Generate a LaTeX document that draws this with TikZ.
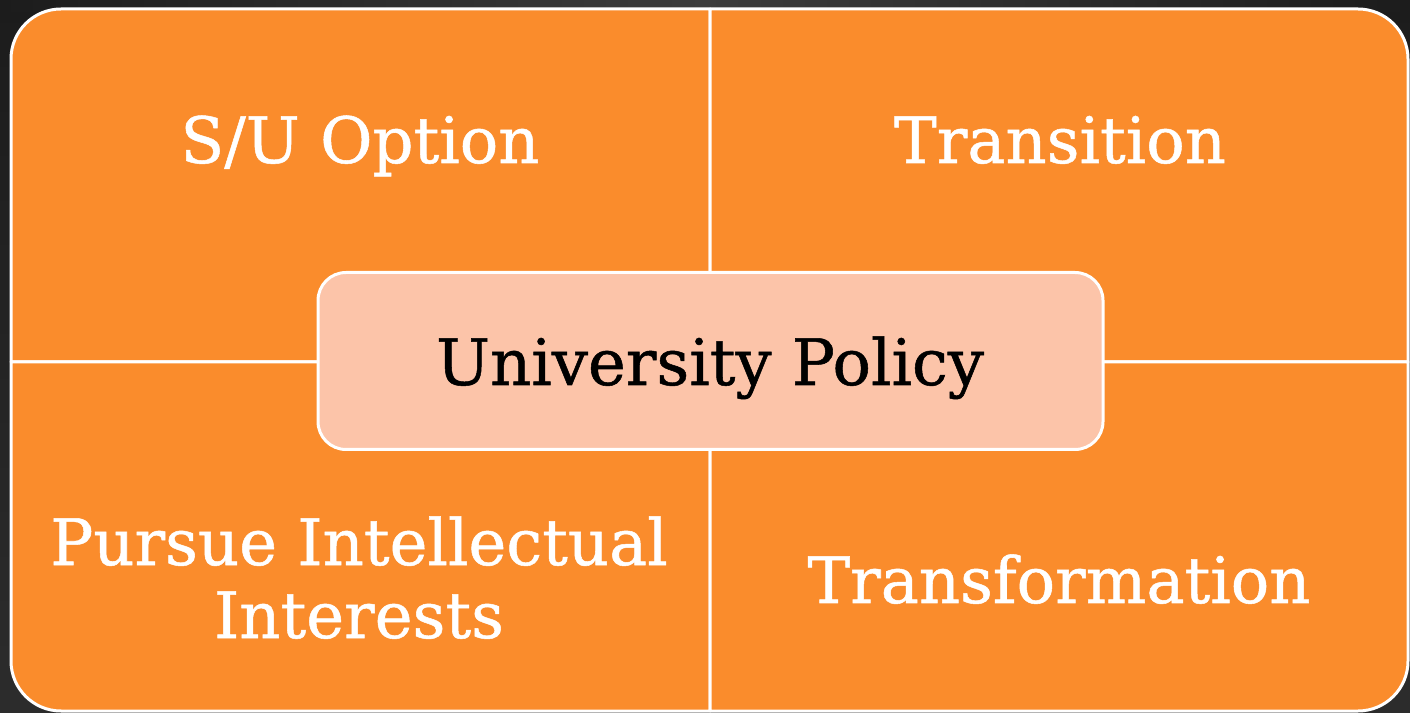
\documentclass[tikz,border=0pt]{standalone}
\usepackage{fontspec}
\setmainfont[FakeBold=0.8]{DejaVu Serif}
\definecolor{bgtop}{HTML}{1C1C1C}
\definecolor{bgbot}{HTML}{2C2C2C}
\definecolor{bgmid}{HTML}{3C3C3C}
\definecolor{quadorange}{HTML}{FA8C2C}
\definecolor{peach}{HTML}{FCC4A9}
\tikzset{
  quad/.style={fill=quadorange, draw=white, line width=3pt, line join=round},
  quadtext/.style={text=white, font=\fontsize{64}{73}\selectfont, inner sep=0pt},
  centerbox/.style={fill=peach, draw=white, line width=3pt, rounded corners=28pt,
    minimum width=785pt, minimum height=177pt, inner sep=0pt},
  centertext/.style={font=\fontsize{64}{73}\selectfont, text=black, inner sep=0pt},
}
\begin{document}
\begin{tikzpicture}[x=1pt,y=1pt]
\useasboundingbox (0,0) rectangle (1410,712);
% background
\shade[top color=bgtop, bottom color=bgbot] (0,0) rectangle (1410,712);
\shade[left color=bgtop, right color=bgtop, middle color=bgmid] (0,700) rectangle (1410,712);
% quadrants
\path[quad] (710,350) -- (11,350) -- (11,653) arc[start angle=180, end angle=90, radius=50] -- (710,703) -- cycle;
\path[quad] (710,703) -- (1358,703) arc[start angle=90, end angle=0, radius=50] -- (1408,350) -- (710,350) -- cycle;
\path[quad] (11,350) -- (710,350) -- (710,1) -- (61,1) arc[start angle=270, end angle=180, radius=50] -- cycle;
\path[quad] (710,350) -- (1408,350) -- (1408,51) arc[start angle=0, end angle=-90, radius=50] -- (760,1) -- (710,1) -- cycle;
% centre
\node[centerbox] (policy) at (710.5,351) {};
\node[centertext, anchor=base] (policytext) at (710,327) {University Policy};
% texts
\node[quadtext, anchor=base] (su) at (360,549) {S/U Option};
\node[quadtext, anchor=base] (transition) at (1060,549) {Transition};
\node[quadtext, anchor=base, align=center] (pursue) at (359,74) {Pursue Intellectual\\Interests};
\node[quadtext, anchor=base] (transformation) at (1059,109) {Transformation};
\end{tikzpicture}
\end{document}
